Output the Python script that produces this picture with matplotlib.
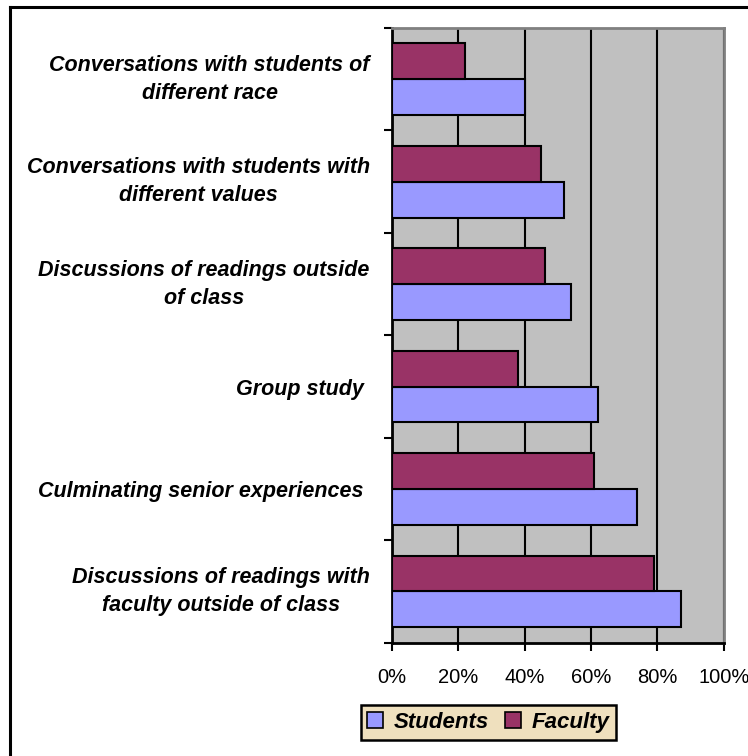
import matplotlib
matplotlib.use("Agg")
import matplotlib.pyplot as plt
from matplotlib.patches import Patch
from matplotlib.lines import Line2D
import numpy as np

categories = [
    "Conversations with students of\ndifferent race",
    "Conversations with students with\ndifferent values",
    "Discussions of readings outside\nof class",
    "Group study ",
    "Culminating senior experiences ",
    "Discussions of readings with\nfaculty outside of class",
]
students = [40, 52, 54, 62, 74, 87]
faculty = [22, 45, 46, 38, 61, 79]
x_ticks = [0, 20, 40, 60, 80, 100]
x_tick_labels = ["0%", "20%", "40%", "60%", "80%", "100%"]
series_names = ["Students", "Faculty"]

STUDENT_COLOR = "#9999FF"
FACULTY_COLOR = "#993366"
FONT = "Liberation Sans"

fig = plt.figure(figsize=(7.48, 7.56), dpi=100)
fig.patch.set_facecolor("white")

# outer chart frame (left and top edges)
fig.add_artist(Line2D([10 / 748, 10 / 748], [0, 1 - 7 / 756], color="black", lw=2.2,
                      transform=fig.transFigure))
fig.add_artist(Line2D([10 / 748, 1], [1 - 7 / 756, 1 - 7 / 756], color="black", lw=2.2,
                      transform=fig.transFigure))

ax = fig.add_axes([392 / 748, 1 - 642.7 / 756, 331.7 / 748, 614.7 / 756])
ax.set_facecolor("#C0C0C0")

y = np.arange(len(categories))
h = 0.35
ax.barh(y + h / 2, students, height=h, color=STUDENT_COLOR, edgecolor="black",
        linewidth=1.5, zorder=3)
ax.barh(y - h / 2, faculty, height=h, color=FACULTY_COLOR, edgecolor="black",
        linewidth=1.5, zorder=3)

ax.set_xlim(0, 100)
ax.set_ylim(len(categories) - 0.5, -0.5)

ax.set_xticks(x_ticks)
ax.set_xticklabels(x_tick_labels, fontfamily=FONT, fontsize=14.5)
ax.xaxis.grid(True, color="black", linewidth=1.5, zorder=1)
ax.set_axisbelow(True)
ax.tick_params(axis="x", direction="out", length=6, width=1.5, pad=12)

ax.set_yticks(y)
ax.set_yticklabels(categories, fontfamily=FONT, fontsize=15.5, fontweight="bold",
                   fontstyle="italic")
for lbl in ax.get_yticklabels():
    lbl.set_multialignment("center")
    lbl.set_linespacing(1.45)
    if "\n" in lbl.get_text():
        lbl.set_verticalalignment("center")
ax.tick_params(axis="y", which="major", length=0, pad=16)
ax.set_yticks(np.arange(-0.5, len(categories)), minor=True)
ax.tick_params(axis="y", which="minor", direction="out", length=6, width=1.5)

for side in ("left", "bottom"):
    ax.spines[side].set_color("black")
    ax.spines[side].set_linewidth(2)
for side in ("top", "right"):
    ax.spines[side].set_color("#808080")
    ax.spines[side].set_linewidth(2)

handles = [Patch(facecolor=STUDENT_COLOR, edgecolor="black", linewidth=1.2),
           Patch(facecolor=FACULTY_COLOR, edgecolor="black", linewidth=1.2)]
leg = fig.legend(handles, series_names, loc="center", bbox_to_anchor=(488.5 / 748, 1 - 722.5 / 756),
                 ncol=2, frameon=True, fancybox=False, handlelength=0.7, handleheight=0.7,
                 handletextpad=0.5, columnspacing=0.7, borderpad=0.3,
                 prop={"family": FONT, "size": 16, "weight": "bold", "style": "italic"})
leg.get_frame().set_facecolor("#EFE0BE")
leg.get_frame().set_edgecolor("black")
leg.get_frame().set_linewidth(1.8)
leg.get_frame().set_alpha(1)

fig.savefig("out.png", dpi=100)
